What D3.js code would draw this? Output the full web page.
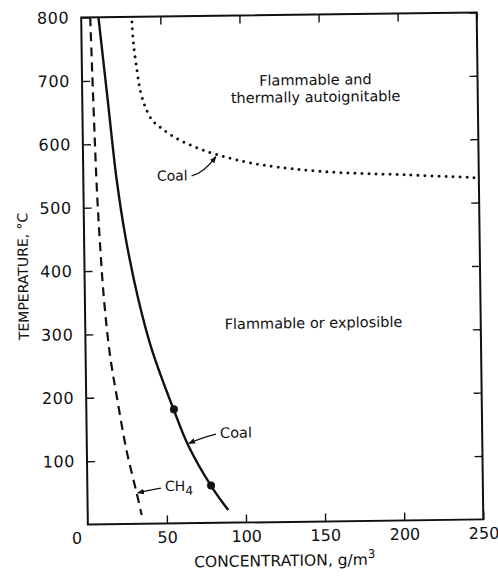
<!DOCTYPE html>
<html>
  <head>
    <title>flammability</title>
    <meta http-equiv="Content-Type" content="text/html; charset=UTF-8">
    <script src="https://d3js.org/d3.v7.min.js"></script>
    <style>
      body { margin: 0; background: #fff; }
      text { font-family: "DejaVu Sans", sans-serif; fill: #111; }
    </style>
  </head>

  <body>

    <div id="chart">
    </div>

    <script>
      // lower limit, coal dust (g/m3, degC)
      var coalLimit = [[10.9, 800], [16.1, 669], [21.1, 543], [26.5, 448], [33.9, 353], [42, 274],
                       [55.3, 179], [63.9, 124], [78.6, 57], [88.9, 20]];
      // lower limit, methane
      var ch4Limit = [[5.7, 800], [8.4, 535], [9.9, 448], [12.1, 354], [15.4, 267], [19.7, 196],
                      [25, 117], [31.1, 49], [34.1, 14]];
      // autoignition, coal dust
      var coalIgnition = [[32, 792], [32.8, 758], [34.8, 716], [36.7, 684], [39.7, 658], [43.9, 637],
                          [49.1, 625], [57.4, 610], [65.8, 599], [75.3, 589], [84.7, 581], [97.3, 572],
                          [115.1, 563], [151.8, 552], [205, 545], [250, 539]];
      // measured points
      var coalPoints = [[55.4, 180], [78.2, 59]];

      var xTicks = [50, 100, 150, 200, 250];
      var yTicks = [100, 200, 300, 400, 500, 600, 700, 800];

      var W = 498, H = 576;
      var x = d3.scaleLinear().domain([0, 250]).range([84.5, 480]);
      var y = d3.scaleLinear().domain([0, 800]).range([522, 15]);

      var svg = d3.select("#chart").append("svg").attr("width", W).attr("height", H);
      svg.append("rect").attr("width", W).attr("height", H).attr("fill", "#fff");

      // the scan is a little bit turned
      var g = svg.append("g").attr("transform", "rotate(-0.75,282,268)");

      var defs = svg.append("defs");
      defs.append("marker").attr("id", "arr").attr("viewBox", "0 0 10 10")
        .attr("refX", 9).attr("refY", 5).attr("markerWidth", 7).attr("markerHeight", 7)
        .attr("orient", "auto").attr("markerUnits", "userSpaceOnUse")
        .append("path").attr("d", "M0,1 L10,5 L0,9 Z").attr("fill", "#111");

      // axes, ticks pointing inward
      var yAx = g.append("g").attr("transform", "translate(" + x(0) + ",0)")
        .call(d3.axisLeft(y).tickValues(yTicks).tickSize(-8).tickPadding(12));
      g.append("g").attr("transform", "translate(" + x(250) + ",0)")
        .call(d3.axisRight(y).tickValues(yTicks).tickSize(-8).tickFormat(""));
      g.append("g").attr("transform", "translate(0," + y(0) + ")")
        .call(d3.axisBottom(x).tickValues(xTicks).tickSize(-8).tickPadding(8));
      g.append("g").attr("transform", "translate(0," + y(800) + ")")
        .call(d3.axisTop(x).tickValues(xTicks).tickSize(-8).tickFormat(""));
      g.selectAll(".domain").remove();
      g.selectAll(".tick line").attr("stroke", "#111").attr("stroke-width", 1.4);
      g.selectAll(".tick text").style("font-family", "DejaVu Sans").style("font-size", "16px")
        .attr("fill", "#111");
      yAx.selectAll(".tick text").style("letter-spacing", "0.6px");

      g.append("rect").attr("x", x(0)).attr("y", y(800))
        .attr("width", x(250) - x(0)).attr("height", y(0) - y(800))
        .attr("fill", "none").attr("stroke", "#111").attr("stroke-width", 2);

      g.append("text").attr("x", x(-7)).attr("y", y(0) + 19).attr("text-anchor", "middle")
        .style("font-size", "16px").text("0");

      // axis titles
      g.append("text").attr("transform", "translate(28,273) rotate(-90)")
        .attr("text-anchor", "middle").style("font-size", "14px").text("TEMPERATURE, \u00B0C");
      var xt = g.append("text").attr("x", 281).attr("y", 566).attr("text-anchor", "middle")
        .style("font-size", "15.5px");
      xt.append("tspan").text("CONCENTRATION, g/m");
      xt.append("tspan").attr("dy", -7).style("font-size", "12px").text("3");

      var line = d3.line().x(function (d) { return x(d[0]); }).y(function (d) { return y(d[1]); })
        .curve(d3.curveCatmullRom.alpha(0.5));

      g.append("path").datum(coalLimit).attr("d", line).attr("fill", "none")
        .attr("stroke", "#111").attr("stroke-width", 2.4);
      g.append("path").datum(ch4Limit).attr("d", line).attr("fill", "none")
        .attr("stroke", "#111").attr("stroke-width", 2.2).attr("stroke-dasharray", "9,6");
      g.append("path").datum(coalIgnition).attr("d", line).attr("fill", "none")
        .attr("stroke", "#111").attr("stroke-width", 3).attr("stroke-linecap", "round")
        .attr("stroke-dasharray", "0,7");

      g.selectAll(".pt").data(coalPoints).enter().append("circle").attr("class", "pt")
        .attr("cx", function (d) { return x(d[0]); }).attr("cy", function (d) { return y(d[1]); })
        .attr("r", 4).attr("fill", "#111");

      // region labels
      g.append("text").attr("x", x(147.5)).attr("y", y(689)).attr("text-anchor", "middle")
        .style("font-size", "14.5px").text("Flammable and");
      g.append("text").attr("x", x(147.5)).attr("y", y(662)).attr("text-anchor", "middle")
        .style("font-size", "14.5px").text("thermally autoignitable");
      g.append("text").attr("x", x(144.3)).attr("y", y(305.5)).attr("text-anchor", "middle")
        .style("font-size", "14.5px").text("Flammable or explosible");

      // curve labels with arrows
      function arrow(a, c, b) {
        g.append("path")
          .attr("d", "M" + x(a[0]) + "," + y(a[1]) + " Q" + x(c[0]) + "," + y(c[1]) + " " + x(b[0]) + "," + y(b[1]))
          .attr("fill", "none").attr("stroke", "#111").attr("stroke-width", 1.3)
          .attr("marker-end", "url(#arr)");
      }
      g.append("text").attr("x", x(46.5)).attr("y", y(541)).style("font-size", "14px").text("Coal");
      arrow([68.5, 548], [76, 552], [84, 578]);

      g.append("text").attr("x", x(84.3)).attr("y", y(134)).style("font-size", "14.5px").text("Coal");
      arrow([81.7, 140], [72, 134], [64.5, 126]);

      var ch = g.append("text").attr("x", x(49.1)).attr("y", y(51.3)).style("font-size", "14px");
      ch.append("tspan").text("CH");
      ch.append("tspan").attr("dy", 4).style("font-size", "12px").text("4");
      arrow([46.5, 56], [39, 53], [31.8, 49]);
    </script>
  </body>
</html>
